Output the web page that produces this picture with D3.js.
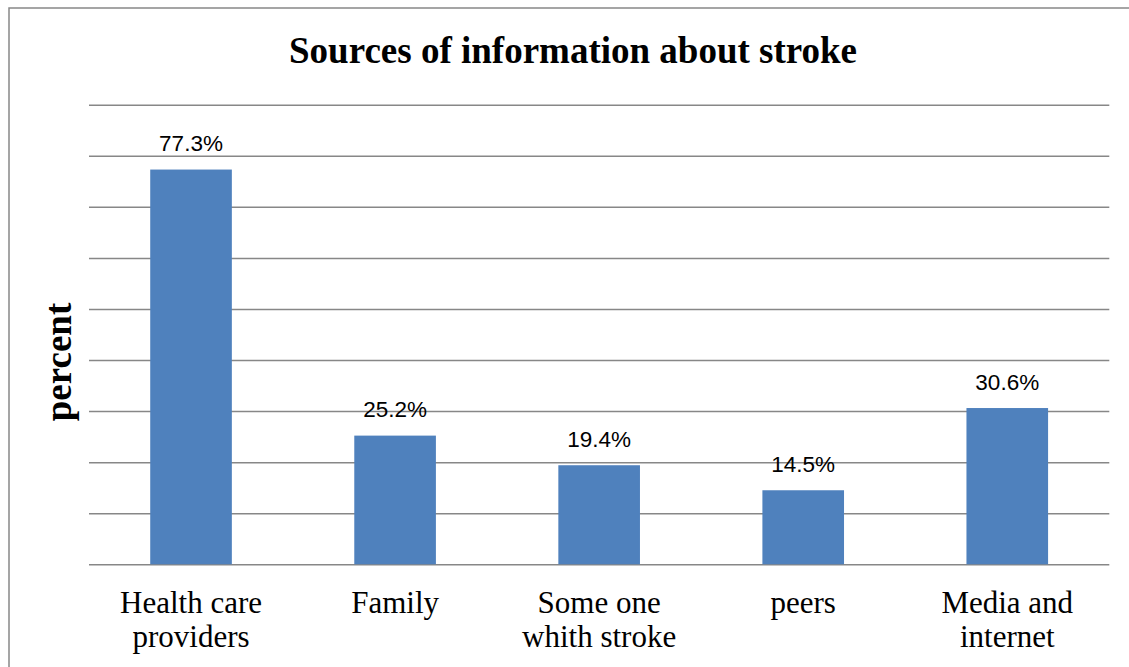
<!DOCTYPE html>
<html>
<head>
<meta charset="utf-8">
<script src="https://cdn.jsdelivr.net/npm/d3@7"></script>
<style>
  html, body { margin: 0; padding: 0; background: #fff; }
  svg { display: block; }
</style>
</head>
<body>
<svg id="chart" width="1129" height="667"></svg>
<script>
const categories = [["Health care", "providers"], ["Family"], ["Some one", "whith stroke"], ["peers"], ["Media and", "internet"]];
const values = [77.3, 25.2, 19.4, 14.5, 30.6];
const valueLabels = ["77.3%", "25.2%", "19.4%", "14.5%", "30.6%"];
const yTicks = [0, 10, 20, 30, 40, 50, 60, 70, 80, 90];
const title = "Sources of information about stroke";
const yTitle = "percent";

const svg = d3.select("#chart");
const W = 1129, H = 667;
const plot = { left: 89, right: 1109.3, top: 104.7, bottom: 564.3 };

svg.append("rect").attr("x", 9).attr("y", 8).attr("width", W + 20).attr("height", H + 20)
  .attr("fill", "#fff").attr("stroke", "#888").attr("stroke-width", 1.5);

const idx = d3.range(values.length);
const x = d3.scaleBand().domain(idx).range([plot.left, plot.right]).paddingInner(0.6).paddingOuter(0.3);
const y = d3.scaleLinear().domain([0, 90]).range([plot.bottom, plot.top]);

const gAxis = svg.append("g").attr("transform", `translate(${plot.left},0)`)
  .call(d3.axisLeft(y).tickValues(yTicks).tickSize(-(plot.right - plot.left)).tickFormat(""));
gAxis.select(".domain").remove();
gAxis.selectAll(".tick line").attr("stroke", "#878787").attr("stroke-width", 1.5);

svg.append("g").selectAll("rect").data(idx).join("rect")
  .attr("x", i => x(i)).attr("width", x.bandwidth())
  .attr("y", i => y(values[i])).attr("height", i => y(0) - y(values[i]))
  .attr("fill", "#4F81BD");

svg.append("g").selectAll("text").data(idx).join("text")
  .attr("x", i => x(i) + x.bandwidth() / 2)
  .attr("y", i => y(values[i]) - 18.5)
  .attr("text-anchor", "middle")
  .attr("font-family", "'Liberation Sans', Arial, sans-serif")
  .attr("font-size", 22.5)
  .attr("fill", "#000")
  .text(i => valueLabels[i]);

const cat = svg.append("g").selectAll("text").data(idx).join("text")
  .attr("text-anchor", "middle")
  .attr("font-family", "'Liberation Serif', 'Times New Roman', serif")
  .attr("font-size", 31)
  .attr("fill", "#000");
cat.each(function(i) {
  const t = d3.select(this);
  categories[i].forEach((line, k) => {
    t.append("tspan").attr("x", x(i) + x.bandwidth() / 2).attr("y", 613.3 + k * 33.4).text(line);
  });
});

svg.append("text").attr("x", 573).attr("y", 63)
  .attr("text-anchor", "middle")
  .attr("font-family", "'Liberation Serif', 'Times New Roman', serif")
  .attr("font-weight", "bold").attr("font-size", 37)
  .text(title);

svg.append("text").attr("transform", "translate(71,362) rotate(-90)")
  .attr("text-anchor", "middle")
  .attr("font-family", "'Liberation Serif', 'Times New Roman', serif")
  .attr("font-weight", "bold").attr("font-size", 37)
  .text(yTitle);
</script>
</body>
</html>
